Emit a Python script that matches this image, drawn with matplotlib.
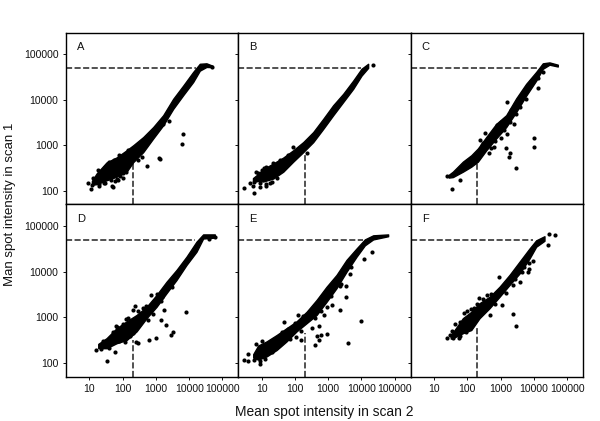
import matplotlib
matplotlib.use("Agg")
import matplotlib.pyplot as plt

plt.rcParams["font.family"] = ["Liberation Sans", "DejaVu Sans"]

# dense part of each cloud, read as lower / upper edge at a few x positions
a_x = [12, 16.6, 33, 66, 132, 209, 417, 832, 1660, 3311, 6607, 13180, 20890, 33110, 50000]
a_lo = [135, 140, 170, 204, 263, 427, 708, 1413, 2754, 6310, 12590, 24550, 43650, 52480, 52000]
a_hi = [165, 240, 420, 540, 776, 1000, 1514, 2512, 4571, 10470, 20420, 40740, 61660, 63100, 56000]
b_x = [5.5, 7, 11.2, 22.4, 44.7, 89, 178, 355, 708, 1413, 2818, 5623, 10000, 15850]
b_lo = [165, 165, 160, 186, 263, 437, 708, 1175, 2291, 4571, 8913, 17380, 33880, 50120]
b_hi = [190, 219, 300, 398, 537, 776, 1175, 1950, 3802, 7586, 13490, 26300, 47860, 61660]
c_x = [28, 37, 74, 132, 209, 372, 741, 1479, 2951, 5888, 11750, 18620, 29510, 52480]
c_lo = [195, 200, 263, 339, 437, 776, 1413, 2512, 5370, 12300, 26300, 47860, 58880, 53700]
c_hi = [225, 263, 437, 603, 851, 1514, 2951, 4571, 10720, 22390, 40740, 63100, 66070, 58880]
d_x = [18.6, 33, 66, 132, 263, 525, 1047, 2089, 4169, 8318, 16600, 26300, 58880]
d_lo = [210, 209, 269, 316, 490, 955, 1698, 3388, 6607, 14130, 27540, 53700, 56230]
d_hi = [260, 347, 575, 813, 1122, 1698, 3090, 6026, 10960, 21380, 45710, 66070, 66070]
e_x = [5.6, 7.9, 14.1, 28.2, 56, 112, 224, 447, 891, 1778, 3548, 7079, 12590, 22390, 63100]
e_lo = [130, 117, 138, 191, 295, 490, 741, 1122, 2188, 4365, 10000, 21380, 38020, 51290, 60260]
e_hi = [155, 240, 295, 407, 575, 813, 1318, 2399, 4677, 8511, 18200, 32360, 51290, 63100, 66070]
f_x = [32, 41.7, 74, 132, 234, 468, 933, 1862, 3715, 7413, 11750, 20890]
f_lo = [340, 363, 447, 525, 955, 1585, 2818, 5129, 9120, 19500, 35480, 47860]
f_hi = [410, 525, 955, 1318, 2042, 2818, 4677, 8511, 16600, 32360, 48980, 60260]

# individually readable points
a_px = [6607, 6166, 1259, 1318, 525, 2455, 1660, 372, 47, 52, 11, 9.1, 49000, 12, 20, 60, 75, 100, 25,
        13, 18, 24, 30, 40, 55, 80, 150, 30, 45, 70, 85, 100, 130, 180, 300, 20, 28]
a_py = [1740, 1070, 537, 490, 355, 3390, 2884, 550, 129, 124, 107, 145, 53700, 135, 140, 165, 170, 190, 290,
        190, 290, 270, 330, 420, 470, 600, 800, 150, 170, 180, 215, 250, 260, 420, 480, 125, 145]
b_px = [3, 6, 9, 5.5, 4.5, 14, 85, 224, 22400, 7, 12, 18,
        8, 10, 14, 22, 35, 60, 9, 14, 20, 30, 12, 7, 6]
b_py = [117, 91, 123, 125, 148, 140, 912, 660, 58900, 260, 320, 145,
        240, 280, 330, 400, 480, 620, 150, 130, 160, 190, 190, 170, 155]
c_px = [24, 35, 59, 1514, 10000, 10230, 2884, 1905, 1820, 1413, 631, 1047, 1550, 2455, 1950, 13490, 18600, 245, 331, 447, 3890, 13000,
        1000, 800, 2000, 4500, 8000, 1300, 3000, 6000, 700, 500, 300, 270]
c_py = [214, 107, 170, 8700, 1413, 912, 309, 676, 550, 851, 912, 1413, 1740, 2951, 3236, 18200, 40700, 1288, 1820, 660, 7080, 30000,
        3200, 2800, 6000, 13000, 26000, 2200, 4900, 10500, 1250, 850, 1100, 1000]
d_px = [16, 35, 59, 7943, 1778, 1445, 1950, 3311, 2754, 1023, 603, 295, 251, 1445, 794, 692, 234, 209, 63, 60000, 40000,
        100, 150, 130, 70, 50, 80, 120, 170, 500, 400, 300, 1100, 1500, 3000, 600, 25, 22, 40, 55, 200]
d_py = [190, 107, 170, 1288, 1413, 851, 676, 468, 398, 355, 316, 269, 282, 2239, 1175, 3162, 1778, 1413, 646, 58000, 52000,
        700, 950, 900, 620, 480, 300, 290, 380, 1800, 1600, 1400, 3300, 2800, 4700, 880, 300, 200, 210, 350, 460]
e_px = [3, 4, 6, 9, 4, 47, 9550, 3890, 20900, 12000, 3388, 2239, 3467, 2239, 1259, 933, 617, 468, 513, 398, 537, 324, 148, 724, 4677, 126,
        7, 10, 9, 13, 20, 35, 70, 40, 100, 180, 60, 700, 1200, 400, 600, 900, 2500, 5000, 150, 110]
e_py = [117, 112, 117, 95, 158, 794, 832, 269, 27500, 18600, 4900, 4900, 2818, 1445, 1820, 437, 407, 389, 309, 245, 631, 589, 316, 1122, 8913, 1122,
        260, 300, 110, 120, 170, 260, 330, 470, 750, 1080, 560, 3000, 3000, 950, 1400, 1700, 5500, 13000, 500, 360]
f_px = [24, 31, 38, 56, 43, 2818, 2399, 27500, 44700, 28200, 9333, 7413, 7079, 6761, 4365, 3890, 871, 1072, 468, 224, 389, 1479, 2344,
        35, 50, 60, 80, 100, 130, 160, 60, 90, 120, 170, 300, 500, 200, 700, 1200, 2800, 5000]
f_py = [347, 407, 355, 355, 724, 631, 1175, 38900, 63100, 66000, 17000, 15850, 11500, 9772, 9772, 5888, 7762, 1862, 1122, 2630, 3090, 3388, 5129,
        500, 520, 800, 1250, 1400, 1500, 1600, 380, 480, 600, 850, 2500, 3300, 2000, 2000, 3800, 7000, 12800]

# where the dashed 200 / 50000 guides stop at the curve
h_end = [16600, 10000, 13000, 15000, 11000, 9500]
v_end = [400, 660, 400, 320, 450, 630]

letters = ["A", "B", "C", "D", "E", "F"]
xticks = [10, 100, 1000, 10000, 100000]
yticks = [100, 1000, 10000, 100000]


def main():
    bands = [(a_x, a_lo, a_hi), (b_x, b_lo, b_hi), (c_x, c_lo, c_hi),
             (d_x, d_lo, d_hi), (e_x, e_lo, e_hi), (f_x, f_lo, f_hi)]
    points = [(a_px, a_py), (b_px, b_py), (c_px, c_py),
              (d_px, d_py), (e_px, e_py), (f_px, f_py)]

    fig, axes = plt.subplots(2, 3, figsize=(6, 4.21), dpi=100, sharex=True, sharey=True)
    fig.subplots_adjust(left=66 / 600, right=583 / 600, top=1 - 32.5 / 421,
                        bottom=1 - 376.5 / 421, wspace=0, hspace=0)

    for i, ax in enumerate(axes.flat):
        x, lo, hi = bands[i]
        ax.fill_between(x, lo, hi, color="black", linewidth=1.0, zorder=3)
        ax.scatter(points[i][0], points[i][1], s=9, color="black", linewidths=0, zorder=3)

        ax.plot([2, h_end[i]], [50000, 50000], color="#222222", linewidth=1.1, dashes=(4, 1.6), zorder=2)
        ax.plot([200, 200], [50, v_end[i]], color="#222222", linewidth=1.1, dashes=(4, 1.6), zorder=2)

        ax.set_xscale("log")
        ax.set_yscale("log")
        ax.set_xlim(2, 300000)
        ax.set_ylim(50, 300000)
        ax.set_xticks(xticks, [str(t) for t in xticks])
        ax.set_yticks(yticks, [str(t) for t in yticks])
        ax.minorticks_off()
        ax.tick_params(length=2.5, width=0.7, labelsize=7.5, pad=3, colors="#111111")
        for spine in ax.spines.values():
            spine.set_linewidth(1.0)
        ax.text(0.065, 0.915, letters[i], transform=ax.transAxes, fontsize=8,
                ha="left", va="center", color="#111111")

    fig.text(324.5 / 600, 1 - 412 / 421, "Mean spot intensity in scan 2", fontsize=9.9,
             ha="center", va="center", color="#111111")
    fig.text(10 / 600, 1 - 204 / 421, "Man spot intensity in scan 1", fontsize=9.5,
             rotation=90, ha="center", va="center", color="#111111")

    fig.savefig("out.png", dpi=100)
    plt.close(fig)


if __name__ == "__main__":
    main()
